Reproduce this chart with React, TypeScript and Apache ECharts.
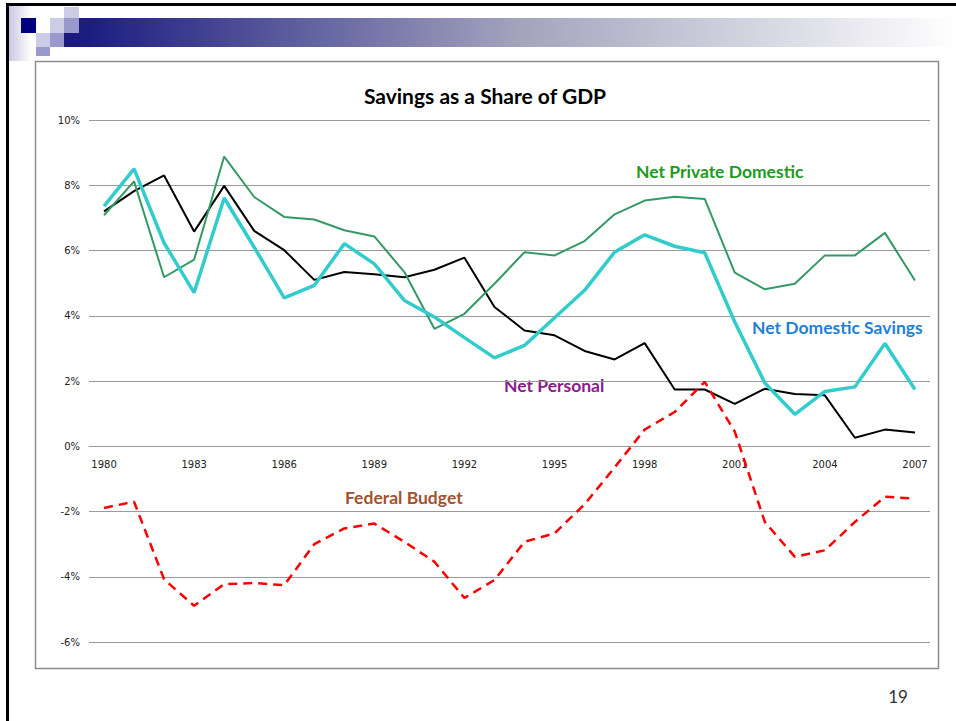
import React, { useEffect, useRef } from "react";
import * as echarts from "echarts";

const years = [
  "1980","1981","1982","1983","1984","1985","1986","1987","1988","1989",
  "1990","1991","1992","1993","1994","1995","1996","1997","1998","1999",
  "2000","2001","2002","2003","2004","2005","2006","2007",
];

const netPersonal = [
  7.2, 7.82, 8.3, 6.58, 7.98, 6.6, 6.01, 5.1, 5.34, 5.27,
  5.18, 5.41, 5.78, 4.27, 3.55, 3.4, 2.92, 2.66, 3.16, 1.74,
  1.74, 1.3, 1.76, 1.6, 1.56, 0.26, 0.51, 0.42,
];

const netPrivateDomestic = [
  7.08, 8.12, 5.18, 5.72, 8.88, 7.64, 7.03, 6.95, 6.62, 6.43,
  5.34, 3.6, 4.06, 4.98, 5.95, 5.85, 6.29, 7.11, 7.53, 7.65,
  7.58, 5.32, 4.81, 4.98, 5.85, 5.85, 6.54, 5.08,
];

const netDomesticSavings = [
  7.36, 8.5, 6.23, 4.71, 7.61, 6.1, 4.55, 4.93, 6.21, 5.59,
  4.47, 3.96, 3.33, 2.71, 3.09, 3.94, 4.78, 5.95, 6.48, 6.13,
  5.93, 3.81, 1.94, 0.98, 1.68, 1.82, 3.15, 1.74,
];

const federalBudget = [
  -1.89, -1.7, -4.08, -4.89, -4.23, -4.19, -4.26, -3.0, -2.52, -2.37,
  -2.93, -3.54, -4.65, -4.1, -2.93, -2.67, -1.78, -0.65, 0.51, 1.05,
  1.97, 0.45, -2.32, -3.39, -3.19, -2.32, -1.55, -1.6,
];

const titleText = "Savings as a Share of GDP";
const pageNumber = "19";

const Y_MIN = -6;
const Y_MAX = 10;
const GRID_TOP = 120;
const GRID_BOTTOM = 79;
const CHART_H = 721;

export default function App() {
  const ref = useRef<HTMLDivElement>(null);

  useEffect(() => {
    if (!ref.current) return;
    const chart = echarts.init(ref.current, undefined, { renderer: "svg" });
    const labelFont = "Lato, 'Open Sans', sans-serif";
    const plotH = CHART_H - GRID_TOP - GRID_BOTTOM;
    // shift the category axis up so it sits on the 0% line
    const zeroOffset = -(plotH * (0 - Y_MIN)) / (Y_MAX - Y_MIN);
    chart.setOption({
      animation: false,
      backgroundColor: "#ffffff",
      grid: { left: 89, right: 26, top: GRID_TOP, bottom: GRID_BOTTOM, containLabel: false },
      xAxis: {
        type: "category",
        data: years,
        boundaryGap: true,
        offset: zeroOffset,
        axisLine: { onZero: false, lineStyle: { color: "#9a9a9a", width: 1 } },
        axisTick: { show: false },
        axisLabel: {
          interval: 2,
          margin: 13,
          color: "#222",
          fontSize: 10,
          fontFamily: "'DejaVu Sans', Verdana, sans-serif",
        },
        splitLine: { show: false },
      },
      yAxis: {
        type: "value",
        min: Y_MIN,
        max: Y_MAX,
        interval: 2,
        axisLine: { show: false },
        axisTick: { show: false },
        axisLabel: {
          margin: 9,
          color: "#222",
          fontSize: 10,
          fontFamily: "'DejaVu Sans', Verdana, sans-serif",
          formatter: (v: number) => `${v}%`,
        },
        splitLine: { lineStyle: { color: "#9a9a9a", width: 1 } },
      },
      series: [
        {
          name: "Net Personal",
          type: "line",
          data: netPersonal,
          showSymbol: false,
          lineStyle: { color: "#000000", width: 2 },
          itemStyle: { color: "#000000" },
          z: 3,
        },
        {
          name: "Net Private Domestic",
          type: "line",
          data: netPrivateDomestic,
          showSymbol: false,
          lineStyle: { color: "#339966", width: 2 },
          itemStyle: { color: "#339966" },
          z: 3,
        },
        {
          name: "Net Domestic Savings",
          type: "line",
          data: netDomesticSavings,
          showSymbol: false,
          lineStyle: { color: "#33cccc", width: 3.5 },
          itemStyle: { color: "#33cccc" },
          z: 4,
        },
        {
          name: "Federal Budget",
          type: "line",
          data: federalBudget,
          showSymbol: false,
          lineStyle: { color: "#ff0000", width: 2.5, type: [9, 6] },
          itemStyle: { color: "#ff0000" },
          z: 5,
        },
      ],
      graphic: [
        {
          type: "rect",
          shape: { x: 9, y: 6, width: 22, height: 55 },
          style: {
            fill: new echarts.graphic.LinearGradient(0, 0, 1, 0, [
              { offset: 0, color: "#c8c8e2" },
              { offset: 1, color: "#ffffff" },
            ]),
          },
          silent: true,
        },
        {
          type: "rect",
          shape: { x: 79, y: 18, width: 877, height: 29 },
          style: {
            fill: new echarts.graphic.LinearGradient(0, 0, 1, 0, [
              { offset: 0, color: "#1a1a80" },
              { offset: 0.5, color: "#a3a3bd" },
              { offset: 1, color: "#ffffff" },
            ]),
          },
          silent: true,
        },
        { type: "rect", shape: { x: 21, y: 18, width: 15, height: 15 }, style: { fill: "#000080" }, silent: true },
        { type: "rect", shape: { x: 50, y: 18, width: 14, height: 15 }, style: { fill: "#ccccE6" }, silent: true },
        { type: "rect", shape: { x: 64, y: 7, width: 15, height: 11 }, style: { fill: "#ccccE6" }, silent: true },
        { type: "rect", shape: { x: 64, y: 18, width: 15, height: 15 }, style: { fill: "#9999cc" }, silent: true },
        { type: "rect", shape: { x: 36, y: 33, width: 14, height: 14 }, style: { fill: "#ccccE6" }, silent: true },
        { type: "rect", shape: { x: 50, y: 33, width: 14, height: 14 }, style: { fill: "#9999cc" }, silent: true },
        { type: "rect", shape: { x: 64, y: 33, width: 15, height: 14 }, style: { fill: "#1a1a80" }, silent: true },
        { type: "rect", shape: { x: 36, y: 47, width: 14, height: 9 }, style: { fill: "#9999cc" }, silent: true },
        { type: "rect", shape: { x: 6, y: 3, width: 950, height: 3 }, style: { fill: "#000000" }, silent: true },
        { type: "rect", shape: { x: 6, y: 3, width: 3, height: 718 }, style: { fill: "#000000" }, silent: true },
        {
          type: "rect",
          shape: { x: 35.5, y: 61.5, width: 903, height: 607 },
          style: { fill: "none", stroke: "#8c8c8c", lineWidth: 1.5 },
          silent: true,
        },
        {
          type: "text",
          x: 485,
          y: 95,
          style: {
            text: titleText,
            fill: "#000000",
            font: `bold 21px ${labelFont}`,
            textAlign: "center",
            textVerticalAlign: "middle",
          },
          silent: true,
        },
        {
          type: "text",
          x: 636,
          y: 171,
          style: {
            text: "Net Private Domestic",
            fill: "#229922",
            font: `bold 17.5px ${labelFont}`,
            textAlign: "left",
            textVerticalAlign: "middle",
          },
          silent: true,
        },
        {
          type: "text",
          x: 752,
          y: 327,
          style: {
            text: "Net Domestic Savings",
            fill: "#1f7fd4",
            font: `bold 17.5px ${labelFont}`,
            textAlign: "left",
            textVerticalAlign: "middle",
          },
          silent: true,
        },
        {
          type: "text",
          x: 504,
          y: 385,
          style: {
            text: "Net Personal",
            fill: "#8a1b8a",
            font: `bold 17.5px ${labelFont}`,
            textAlign: "left",
            textVerticalAlign: "middle",
          },
          silent: true,
        },
        {
          type: "text",
          x: 345,
          y: 497,
          style: {
            text: "Federal Budget",
            fill: "#a0522d",
            font: `bold 17.5px ${labelFont}`,
            textAlign: "left",
            textVerticalAlign: "middle",
          },
          silent: true,
        },
        {
          type: "text",
          x: 898,
          y: 696,
          style: {
            text: pageNumber,
            fill: "#333333",
            font: `17px ${labelFont}`,
            textAlign: "center",
            textVerticalAlign: "middle",
          },
          silent: true,
        },
      ],
    });
    return () => chart.dispose();
  }, []);

  return (
    <div
      ref={ref}
      style={{ position: "fixed", left: 0, top: 0, width: 956, height: 721, background: "#fff" }}
    />
  );
}
